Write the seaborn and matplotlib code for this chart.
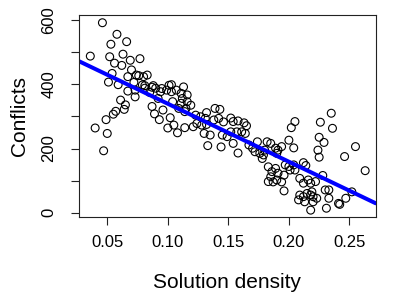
import seaborn as sns
import matplotlib.pyplot as plt
import pandas as pd

# solution density vs conflicts
density = [0.046, 0.058, 0.066, 0.053, 0.036, 0.052, 0.063, 0.077, 0.069, 0.056,
           0.062, 0.070, 0.054, 0.067, 0.074, 0.076, 0.083, 0.080, 0.051, 0.059,
           0.072, 0.079, 0.081, 0.088, 0.101, 0.103, 0.113, 0.087, 0.095, 0.094,
           0.099, 0.067, 0.073, 0.081, 0.085, 0.090, 0.103, 0.107, 0.111, 0.116,
           0.092, 0.104, 0.111, 0.109, 0.114,
           0.061, 0.065, 0.073, 0.064, 0.057, 0.055, 0.049, 0.040, 0.050, 0.047,
           0.087, 0.089, 0.093, 0.096, 0.102, 0.100, 0.105, 0.108, 0.114,
           0.112, 0.116, 0.115, 0.119, 0.132, 0.139, 0.143, 0.123, 0.127, 0.131,
           0.124, 0.128, 0.132, 0.121, 0.138, 0.142, 0.146, 0.152, 0.154, 0.158,
           0.163, 0.165, 0.135, 0.145, 0.149, 0.152, 0.157, 0.161, 0.164, 0.133,
           0.144, 0.154, 0.158, 0.167, 0.170, 0.174, 0.172, 0.176, 0.180, 0.179,
           0.185, 0.189, 0.190, 0.130, 0.178, 0.191, 0.194, 0.182,
           0.183, 0.186, 0.189, 0.191, 0.185, 0.183, 0.190, 0.197, 0.200, 0.204,
           0.201, 0.205, 0.196, 0.187, 0.194, 0.209, 0.212, 0.216, 0.218, 0.222,
           0.196, 0.209, 0.212, 0.215, 0.218, 0.219, 0.220, 0.223, 0.208, 0.213,
           0.220, 0.230, 0.233, 0.233, 0.231, 0.218, 0.241, 0.242, 0.247, 0.252,
           0.228, 0.212, 0.214, 0.225,
           0.235, 0.226, 0.236, 0.205, 0.202, 0.200, 0.204, 0.225, 0.229, 0.224,
           0.255, 0.246, 0.263]
conflicts = [592, 556, 533, 525, 488, 486, 494, 480, 475, 466,
             459, 445, 434, 424, 429, 427, 429, 424, 407, 399,
             406, 398, 396, 396, 397, 399, 392, 391, 387, 377,
             382, 379, 382, 388, 375, 388, 377, 382, 372, 367,
             356, 346, 341, 325, 315,
             351, 336, 361, 322, 316, 307, 290, 264, 247, 193,
             331, 308, 290, 320, 296, 264, 273, 249, 265,
             356, 346, 325, 335, 312, 325, 322, 304, 299, 294,
             278, 273, 275, 268, 289, 294, 283, 295, 284, 286,
             280, 271, 242, 242, 237, 252, 252, 252, 247, 209,
             205, 216, 186, 211, 201, 221, 190, 185, 195, 180,
             216, 201, 185, 247, 169, 195, 206, 221,
             143, 128, 138, 123, 112, 97, 102, 149, 144, 149,
             133, 133, 117, 96, 96, 107, 92, 102, 92, 97,
             68, 55, 50, 60, 55, 65, 50, 45, 40, 34,
             34, 71, 71, 45, 14, 8, 29, 26, 45, 65,
             116, 156, 147, 173,
             310, 282, 263, 284, 265, 226, 202, 235, 219, 195,
             206, 175, 131]

x_ticks = [0.05, 0.10, 0.15, 0.20, 0.25]
y_ticks = [0, 100, 200, 300, 400, 500, 600]
y_ticklabels = ["0", "", "200", "", "400", "", "600"]

df = pd.DataFrame({"Solution density": density, "Conflicts": conflicts})

sns.set_style("ticks")
plt.rcParams['font.family'] = ['Liberation Sans', 'DejaVu Sans']

fig = plt.figure(figsize=(4.15, 3.01), dpi=100)
ax = fig.add_axes([0.1896, 0.280, 0.7157, 0.669])
ax.set_xlim(0.0264, 0.2717)
ax.set_ylim(-12.5, 615)

sns.regplot(x="Solution density", y="Conflicts", data=df, ax=ax, ci=None, truncate=False,
            scatter_kws=dict(facecolors="none", edgecolors="black", s=32, linewidths=0.8, alpha=1),
            line_kws=dict(color="#0000ff", lw=2.9))

for s in ax.spines.values():
    s.set_visible(True)
    s.set_color("#222222")
    s.set_linewidth(0.8)

ax.set_xticks(x_ticks)
ax.set_xticklabels(["%.2f" % v for v in x_ticks])
ax.set_yticks(y_ticks)
ax.set_yticklabels(y_ticklabels, rotation=90, va="center")
ax.tick_params(direction="out", length=6, width=0.8, color="#222222",
               labelsize=12, labelcolor="black")
ax.tick_params(axis="x", pad=7)
ax.tick_params(axis="y", pad=10)

ax.set_xlabel("Solution density", fontsize=15, labelpad=17, color="black")
ax.set_ylabel("Conflicts", fontsize=15, labelpad=9, color="black")

plt.savefig("out.png", dpi=100)
